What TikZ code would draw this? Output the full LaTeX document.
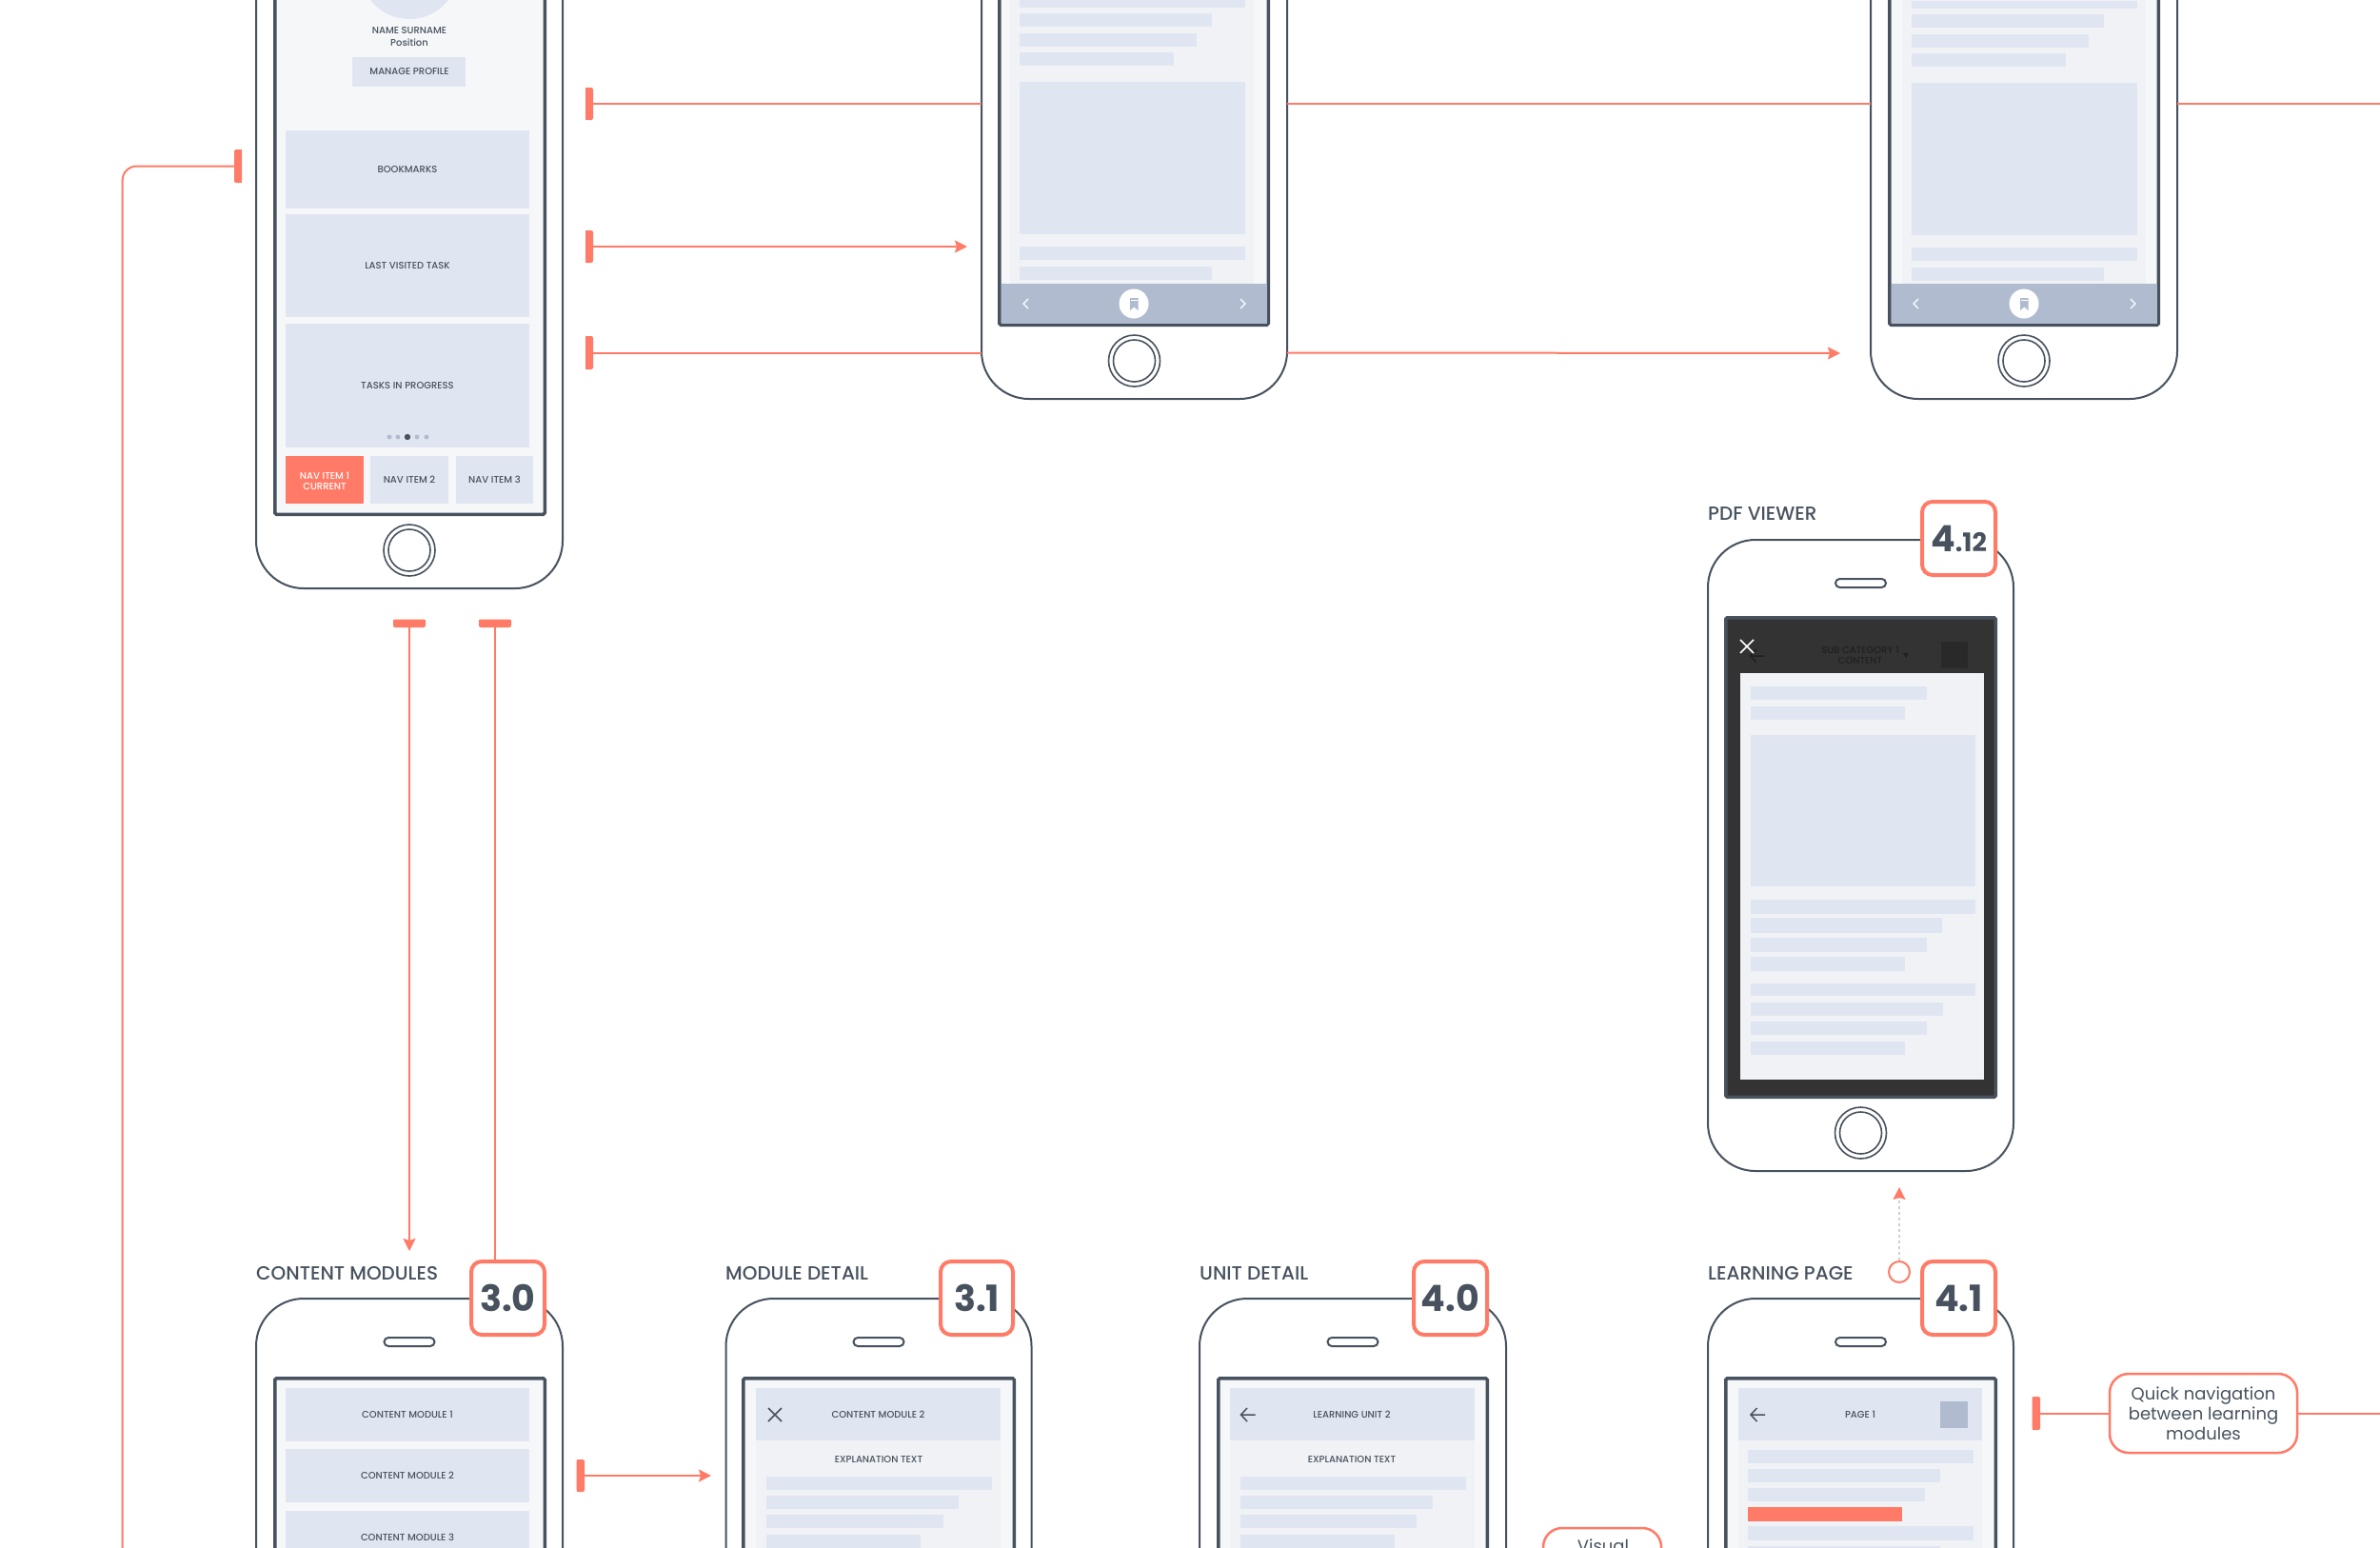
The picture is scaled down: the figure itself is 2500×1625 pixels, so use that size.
\documentclass[tikz,border=0pt]{standalone}
\usepackage{fontspec}
\setmainfont{Poppins}
\newfontfamily\medfont{Poppins Medium}
\usetikzlibrary{arrows.meta}
\definecolor{slate}{HTML}{47525E}
\definecolor{coral}{HTML}{FF7B67}
\definecolor{tile}{HTML}{E0E6F1}
\definecolor{panelbg}{HTML}{F0F2F6}
\definecolor{screenbg}{HTML}{F6F7F9}
\definecolor{footer}{HTML}{B0BBCF}
\definecolor{pdfdark}{HTML}{333333}
\definecolor{pdfink}{HTML}{1F2020}
\definecolor{pdfbox}{HTML}{292929}
\definecolor{dashgrey}{HTML}{CFCFCF}
\newcommand{\smallfs}{\medfont\fontsize{10}{11}\selectfont}
\newcommand{\titlefs}{\medfont\fontsize{20}{24}\selectfont}
\newcommand{\callfs}{\fontsize{18}{22}\selectfont}
\tikzset{
  x=1pt,y=-1pt,
  phonebody/.style={draw=slate,line width=2pt,fill=white,rounded corners=50pt,inner sep=0pt,outer sep=0pt},
  conn/.style={draw=coral,line width=2pt},
  connarrow/.style={conn,-{Stealth[length=13pt,width=13pt,inset=2pt]}},
  smalltxt/.style={text=slate,font=\smallfs,inner sep=0pt,align=center},
  titletxt/.style={text=slate,font=\titlefs,inner sep=0pt,anchor=west},
  badgebox/.style={draw=coral,line width=4pt,fill=white,rounded corners=11pt,inner sep=0pt,text=slate,font=\bfseries},
  calloutbox/.style={draw=coral,line width=2.5pt,fill=white,rounded corners=20pt,inner sep=0pt,text=slate,font=\callfs,align=center},
  tbarshape/.style={fill=coral,inner sep=0pt,outer sep=0pt,rounded corners=2pt},
}
\newcommand{\scrb}{0}
% \phone{name}{L}{R}{T}{B}{sL}{sR}{sT}{screen fill}; screen bottom is \scrb
\newcommand{\phone}[9]{%
  \node[phonebody,minimum width={#3-#2},minimum height={#5-#4}] (#1) at ({(#2+#3)/2},{(#4+#5)/2}) {};
  \draw[slate,line width=2pt,fill=white,rounded corners=4.5pt]
     ({(#2+#3)/2-26.5},{#4+41}) rectangle ({(#2+#3)/2+26.5},{#4+50});
  \draw[slate,line width=1.6pt] ({(#2+#3)/2},{#5-40}) circle (27);
  \draw[slate,line width=1.6pt] ({(#2+#3)/2},{#5-40}) circle (22);
  \draw[slate,line width=3.5pt,fill=#9,rounded corners=1.5pt] ({#6+1.75},{#8+1.75}) rectangle ({#7-1.75},{\scrb-1.75});
}
\newcommand{\rct}[5]{\fill[#1] (#2,#3) rectangle (#4,#5);}
\newcommand{\lbl}[4]{\node[smalltxt] (#1) at (#2,#3) {#4};}
\newcommand{\ttl}[4]{\node[titletxt] (#1) at (#2,#3) {#4};}
% side bar, flat on the left
\newcommand{\tbarV}[5]{%
  \node[tbarshape,minimum width={#4-#2},minimum height={#5-#3}] (#1) at ({(#2+#4)/2},{(#3+#5)/2}) {};
  \fill[coral] (#2,#3) rectangle ({(#2+#4)/2},#5);}
% bar flat on the top
\newcommand{\tbarH}[5]{%
  \node[tbarshape,minimum width={#4-#2},minimum height={#5-#3}] (#1) at ({(#2+#4)/2},{(#3+#5)/2}) {};
  \fill[coral] (#2,#3) rectangle (#4,{(#3+#5)/2});}
\newcommand{\badge}[6]{\node[badgebox,minimum width={#4-#2},minimum height={#5-#3}] (#1) at ({(#2+#4)/2},{(#3+#5)/2}) {#6};}
\newcommand{\bigd}{\fontsize{38}{38}\selectfont}
\newcommand{\xicon}[3]{\draw[#3,line width=1.7pt] ({#1-7},{#2-7}) -- ({#1+7},{#2+7}) ({#1+7},{#2-7}) -- ({#1-7},{#2+7});}
\newcommand{\larrow}[3]{\draw[#3,line width=1.5pt] ({#1+7.5},#2) -- ({#1-7.5},#2) ({#1-1},{#2-7}) -- ({#1-7.5},#2) -- ({#1-1},{#2+7});}
% footer of the reading screens: {cx}{sL}{sR}
\newcommand{\readfoot}[3]{%
  \fill[footer] ({#2+3.5},298) rectangle ({#3-3.5},340);
  \fill[white] (#1,319) circle (15.5);
  \fill[footer] ({#1-4},313) -- ({#1+4.5},313) -- ({#1+4.5},326) -- ({#1+.25},322.5) -- ({#1-4},326) -- cycle;
  \fill[white] ({#1-3},315) rectangle ({#1+3.5},316);
  \draw[white,line width=1.2pt] ({#1-111},314) -- ({#1-116},319) -- ({#1-111},324);
  \draw[white,line width=1.2pt] ({#1+112},314) -- ({#1+117},319) -- ({#1+112},324);}
% \readbars{x0}{dy}
\newcommand{\readbars}[2]{%
  \fill[panelbg] ({#1-10},0) rectangle ({#1+246},298);
  \fill[tile] (#1,{#2+0}) rectangle ({#1+237},{#2+8});
  \fill[tile] (#1,{#2+14}) rectangle ({#1+202},{#2+28});
  \fill[tile] (#1,{#2+35}) rectangle ({#1+186},{#2+49});
  \fill[tile] (#1,{#2+55}) rectangle ({#1+162},{#2+69});
  \fill[tile] (#1,{#2+86}) rectangle ({#1+237},{#2+246});
  \fill[tile] (#1,{#2+259}) rectangle ({#1+237},{#2+273});
  \fill[tile] (#1,{#2+280}) rectangle ({#1+202},{#2+294});}
\begin{document}
\begin{tikzpicture}
\useasboundingbox (0,0) rectangle (2500,1625);
\clip (0,0) rectangle (2500,1625);
\fill[white] (0,0) rectangle (2500,1625);

% ---------- phone A: profile
\renewcommand{\scrb}{542}
\phone{pA}{269}{591}{-300}{618}{287}{574}{-100}{screenbg}
\fill[tile] (430,-32) circle (52);
\lbl{nameS}{430}{32}{NAME SURNAME}
\lbl{posn}{430}{45}{Position}
\rct{tile}{370}{60}{489}{91}
\lbl{mng}{430}{75}{MANAGE PROFILE}
\rct{tile}{300}{137}{556}{219}
\lbl{bkm}{428}{178}{BOOKMARKS}
\rct{tile}{300}{225}{556}{333}
\lbl{lvt}{428}{279}{LAST VISITED TASK}
\rct{tile}{300}{340}{556}{470}
\lbl{tip}{428}{405}{TASKS IN PROGRESS}
\foreach \dx in {409,418,438,448}{\fill[footer] (\dx,459) circle (2.4);}
\fill[slate] (428,459) circle (3.2);
\rct{coral}{300}{479}{382}{529}
\node[smalltxt,text=white] (nav1) at (341,505) {NAV ITEM 1\\CURRENT};
\rct{tile}{389}{479}{471}{529}
\lbl{nav2}{430}{504}{NAV ITEM 2}
\rct{tile}{479}{479}{560}{529}
\lbl{nav3}{519.5}{504}{NAV ITEM 3}

% ---------- phone B
\renewcommand{\scrb}{343}
\phone{pB}{1031}{1352}{-300}{419}{1048}{1334}{-100}{screenbg}
\readbars{1071}{0}
\readfoot{1191}{1048}{1334}

% ---------- phone C
\phone{pC}{1965}{2287}{-300}{419}{1983}{2269}{-100}{screenbg}
\readbars{2008}{1}
\readfoot{2126}{1983}{2269}

% ---------- phone D: PDF viewer
\renewcommand{\scrb}{1154}
\phone{pD}{1794}{2115}{567}{1230}{1811}{2098}{647}{pdfdark}
\rct{pdfbox}{2039}{674}{2067}{702}
\node[smalltxt,text=pdfink] (subc) at (1954,688.5) {SUB CATEGORY 1\\CONTENT};
\fill[pdfink] (1999,686) -- (2005,686) -- (2002,691) -- cycle;
\larrow{1846}{689}{pdfink}
\xicon{1835}{679}{white}
\rct{panelbg}{1828}{707}{2084}{1134}
\rct{tile}{1839}{721}{2024}{735}
\rct{tile}{1839}{742}{2001}{756}
\rct{tile}{1839}{772}{2075}{931}
\rct{tile}{1839}{945}{2075}{960}
\rct{tile}{1839}{964}{2040}{980}
\rct{tile}{1839}{985}{2024}{1000}
\rct{tile}{1839}{1005}{2001}{1020}
\rct{tile}{1839}{1033}{2075}{1046}
\rct{tile}{1839}{1053}{2041}{1067}
\rct{tile}{1839}{1073}{2024}{1087}
\rct{tile}{1839}{1094}{2001}{1108}
\ttl{tD}{1794}{540}{PDF VIEWER}
\badge{b412}{2019}{527}{2096}{604}{{\bigd 4}{\fontsize{27}{27}\selectfont.12}}

% ---------- phone E: content modules
\renewcommand{\scrb}{1800}
\phone{pE}{269}{591}{1364}{2027}{287}{574}{1446}{screenbg}
\rct{tile}{300}{1458}{556}{1514}
\lbl{cm1}{428}{1486}{CONTENT MODULE 1}
\rct{tile}{300}{1522}{556}{1578}
\lbl{cm2}{428}{1550}{CONTENT MODULE 2}
\rct{tile}{300}{1587}{556}{1643}
\lbl{cm3}{428}{1615}{CONTENT MODULE 3}
\ttl{tE}{269}{1338}{CONTENT MODULES}
\badge{b30}{495}{1325}{572}{1402}{\bigd 3.0}

% ---------- phone F: module detail
\phone{pF}{762.5}{1083.5}{1364}{2027}{779}{1067}{1446}{screenbg}
\rct{panelbg}{794}{1513}{1051}{1700}
\rct{tile}{794}{1458}{1051}{1513}
\xicon{814}{1486}{slate}
\lbl{fh}{922.5}{1486}{CONTENT MODULE 2}
\lbl{fe}{923}{1533}{EXPLANATION TEXT}
\rct{tile}{805}{1551}{1042}{1565}
\rct{tile}{805}{1571}{1007}{1585}
\rct{tile}{805}{1591}{991}{1605}
\rct{tile}{805}{1612}{967}{1626}
\ttl{tF}{762}{1338}{MODULE DETAIL}
\badge{b31}{988}{1325}{1064}{1402}{\bigd 3.1}

% ---------- phone G: unit detail
\phone{pG}{1260}{1582}{1364}{2027}{1278}{1564}{1446}{screenbg}
\rct{panelbg}{1292}{1513}{1548.5}{1700}
\rct{tile}{1292}{1458}{1548.5}{1513}
\larrow{1311}{1486}{slate}
\lbl{gh}{1420}{1486}{LEARNING UNIT 2}
\lbl{ge}{1420}{1533}{EXPLANATION TEXT}
\rct{tile}{1303}{1551}{1540}{1565}
\rct{tile}{1303}{1571}{1505}{1585}
\rct{tile}{1303}{1591}{1488}{1605}
\rct{tile}{1303}{1612}{1465}{1626}
\ttl{tG}{1260}{1338}{UNIT DETAIL}
\badge{b40}{1485}{1325}{1562}{1402}{\bigd 4.0}

% ---------- phone H: learning page
\phone{pH}{1794}{2115}{1364}{2027}{1811}{2098}{1446}{screenbg}
\rct{panelbg}{1826}{1513}{2082}{1700}
\rct{tile}{1826}{1458}{2082}{1513}
\larrow{1846.5}{1486}{slate}
\lbl{hh}{1954}{1486}{PAGE 1}
\rct{footer}{2038}{1472}{2067}{1500}
\rct{tile}{1836}{1523}{2073}{1537}
\rct{tile}{1836}{1543}{2038}{1557}
\rct{tile}{1836}{1563}{2021.5}{1577}
\rct{coral}{1836}{1583}{1998}{1598}
\rct{tile}{1836}{1603}{2073}{1618}
\rct{tile}{1836}{1624}{2038}{1638}
\ttl{tH}{1794}{1338}{LEARNING PAGE}
\badge{b41}{2019}{1325}{2096}{1402}{\bigd 4.1}

% ---------- callouts
\node[calloutbox,minimum width=197,minimum height=83] (quick) at (2314.5,1484.5)
  {Quick navigation\\[-1pt]between learning\\[-1pt]modules};
\node[calloutbox,minimum width=124,minimum height=83] (visual) at (1683,1646.5) {};
\node[text=slate,font=\callfs,inner sep=0pt,anchor=base] (visualtxt) at (1684,1630) {Visual};

% ---------- T bars
\tbarV{t1}{615}{92}{623}{126}
\tbarV{t2}{615}{242}{623}{276}
\tbarV{t3}{615}{353}{623}{388}
\node[tbarshape,minimum width=8,minimum height=35] (tL) at (250,174.5) {};
\fill[coral] (250,157) rectangle (254,192);
\tbarH{bb1}{413}{650.5}{447}{659}
\tbarH{bb2}{503}{650.5}{537}{659}
\tbarV{t30}{605.5}{1533}{614}{1567}
\tbarV{t41}{2134.5}{1467}{2143}{1502}
\node[draw=coral,line width=2pt,fill=white,circle,minimum size=22,inner sep=0pt] (c41) at (1995,1336) {};

% ---------- free ends
\coordinate (endTop) at (2510,109);
\coordinate (arr2) at (1016,259);
\coordinate (arr3) at (1933,371);
\coordinate (downL) at (128.6,1700);
\coordinate (arrE) at (430,1314);
\coordinate (arrF) at (747,1550);
\coordinate (arrD) at (1995,1247);
\coordinate (endQ) at (2510,1484.5);

% ---------- connectors
\draw[conn] (t1.east) -- (t1.east -| pB.west);
\draw[conn] (t1.east -| pB.east) -- (t1.east -| pC.west);
\draw[conn] (t1.east -| pC.east) -- (endTop);
\draw[connarrow] (t2.east) -- (arr2);
\draw[conn] (t3.east) -- (t3.east -| pB.west);
\draw[connarrow] (t3.east -| pB.east) -- (arr3);
\draw[conn,rounded corners=15pt] (tL.west) -| (downL);
\draw[connarrow] (bb1.south) -- (arrE);
\draw[conn] (bb2.south) -- (bb2.south |- b30.north);
\draw[connarrow] (t30.east) -- (arrF);
\draw[conn] (t41.east) -- (quick.west);
\draw[conn] (quick.east) -- (endQ);
\draw[draw=dashgrey,line width=1.5pt,dashed,-{Stealth[length=13pt,width=13pt,inset=2pt,color=coral,fill=coral]}] (c41.north) -- (arrD);
\end{tikzpicture}
\end{document}
